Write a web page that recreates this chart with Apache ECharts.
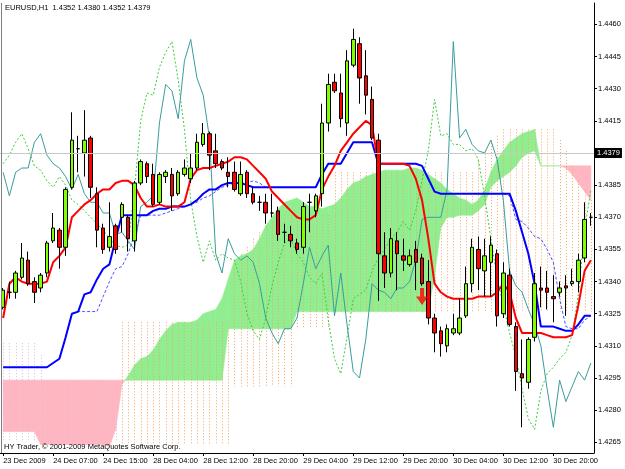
<!DOCTYPE html>
<html>
<head>
<meta charset="utf-8">
<script src="https://cdn.jsdelivr.net/npm/echarts@6.0.0/dist/echarts.min.js"></script>
<style>
  html, body { margin: 0; padding: 0; background: #fff; }
  #chart { width: 625px; height: 469px; }
</style>
</head>
<body>
<div id="chart"></div>
<script>
// EURUSD H1, 23 Dec 23:00 .. 31 Dec 02:00
const categories = [
  '23 Dec 23:00',
  '24 Dec 00:00','24 Dec 01:00','24 Dec 02:00','24 Dec 03:00','24 Dec 04:00','24 Dec 05:00','24 Dec 06:00',
  '24 Dec 07:00','24 Dec 08:00','24 Dec 09:00','24 Dec 10:00','24 Dec 11:00','24 Dec 12:00','24 Dec 13:00',
  '24 Dec 14:00','24 Dec 15:00','24 Dec 16:00','24 Dec 17:00','24 Dec 18:00','24 Dec 19:00','24 Dec 20:00',
  '28 Dec 02:00','28 Dec 03:00','28 Dec 04:00','28 Dec 05:00','28 Dec 06:00','28 Dec 07:00','28 Dec 08:00',
  '28 Dec 09:00','28 Dec 10:00','28 Dec 11:00','28 Dec 12:00','28 Dec 13:00','28 Dec 14:00','28 Dec 15:00',
  '28 Dec 16:00','28 Dec 17:00','28 Dec 18:00','28 Dec 19:00','28 Dec 20:00','28 Dec 21:00','28 Dec 22:00',
  '28 Dec 23:00',
  '29 Dec 00:00','29 Dec 01:00','29 Dec 02:00','29 Dec 03:00','29 Dec 04:00','29 Dec 05:00','29 Dec 06:00',
  '29 Dec 07:00','29 Dec 08:00','29 Dec 09:00','29 Dec 10:00','29 Dec 11:00','29 Dec 12:00','29 Dec 13:00',
  '29 Dec 14:00','29 Dec 15:00','29 Dec 16:00','29 Dec 17:00','29 Dec 18:00','29 Dec 19:00','29 Dec 20:00',
  '29 Dec 21:00','29 Dec 22:00','29 Dec 23:00',
  '30 Dec 00:00','30 Dec 01:00','30 Dec 02:00','30 Dec 03:00','30 Dec 04:00','30 Dec 05:00','30 Dec 06:00',
  '30 Dec 07:00','30 Dec 08:00','30 Dec 09:00','30 Dec 10:00','30 Dec 11:00','30 Dec 12:00','30 Dec 13:00',
  '30 Dec 14:00','30 Dec 15:00','30 Dec 16:00','30 Dec 17:00','30 Dec 18:00','30 Dec 19:00','30 Dec 20:00',
  '30 Dec 21:00','30 Dec 22:00','30 Dec 23:00',
  '31 Dec 00:00','31 Dec 01:00','31 Dec 02:00'
];

const openP = [
  1.4328,1.4335,1.4335,1.4342,1.4350,1.4340,1.4337,1.4344,1.4359,1.4364,
  1.4356,1.4384,1.4402,1.4400,1.4407,1.4381,1.4365,1.4356,1.4366,1.4370,
  1.4370,1.4359,1.4386,1.4395,1.4390,1.4377,1.4389,1.4390,1.4381,1.4390,
  1.4388,1.4393,1.4404,1.4409,1.4401,1.4396,1.4391,1.4391,1.4381,1.4391,
  1.4381,1.4377,1.4377,1.4372,1.4373,1.4363,1.4362,1.4358,1.4356,1.4377,
  1.4373,1.4381,1.4414,1.4433,1.4428,1.4414,1.4441,1.4451,1.4436,1.4425,
  1.4406,1.4352,1.4344,1.4359,1.4352,1.4348,1.4355,1.4351,1.4340,1.4323,
  1.4317,1.4310,1.4316,1.4316,1.4324,1.4339,1.4355,1.4345,1.4349,1.4353,
  1.4325,1.4343,1.4319,1.4297,1.4293,1.4314,1.4337,1.4337,1.4333,1.4335,
  1.4338,1.4339,1.4340,1.4351,1.4370
];
const highP = [
  1.4337,1.4340,1.4345,1.4358,1.4354,1.4342,1.4344,1.4359,1.4372,1.4365,
  1.4384,1.4419,1.4408,1.4420,1.4408,1.4384,1.4367,1.4377,1.4367,1.4377,
  1.4371,1.4387,1.4397,1.4396,1.4395,1.4391,1.4392,1.4393,1.4392,1.4397,
  1.4400,1.4409,1.4414,1.4410,1.4409,1.4397,1.4398,1.4396,1.4396,1.4392,
  1.4384,1.4380,1.4381,1.4381,1.4375,1.4367,1.4366,1.4360,1.4377,1.4381,
  1.4381,1.4423,1.4437,1.4437,1.4437,1.4448,1.4458,1.4454,1.4448,1.4431,
  1.4409,1.4363,1.4365,1.4363,1.4360,1.4355,1.4359,1.4353,1.4350,1.4325,
  1.4319,1.4320,1.4325,1.4332,1.4347,1.4360,1.4361,1.4360,1.4361,1.4355,
  1.4349,1.4346,1.4321,1.4313,1.4314,1.4344,1.4347,1.4345,1.4343,1.4340,
  1.4343,1.4346,1.4353,1.4377,1.4372
];
const lowP = [
  1.4327,1.4332,1.4332,1.4341,1.4338,1.4330,1.4335,1.4342,1.4358,1.4346,
  1.4352,1.4383,1.4391,1.4389,1.4379,1.4356,1.4353,1.4354,1.4353,1.4363,
  1.4354,1.4354,1.4385,1.4386,1.4375,1.4376,1.4386,1.4373,1.4380,1.4389,
  1.4386,1.4392,1.4403,1.4392,1.4393,1.4392,1.4384,1.4382,1.4380,1.4379,
  1.4376,1.4373,1.4367,1.4370,1.4359,1.4358,1.4356,1.4353,1.4353,1.4363,
  1.4370,1.4375,1.4410,1.4428,1.4412,1.4408,1.4440,1.4423,1.4418,1.4406,
  1.4331,1.4337,1.4342,1.4336,1.4345,1.4347,1.4336,1.4338,1.4320,1.4307,
  1.4305,1.4307,1.4315,1.4315,1.4323,1.4335,1.4336,1.4333,1.4333,1.4319,
  1.4323,1.4319,1.4289,1.4272,1.4290,1.4312,1.4328,1.4327,1.4321,1.4333,
  1.4324,1.4338,1.4335,1.4349,1.4366
];
const closeP = [
  1.4336,1.4335,1.4344,1.4351,1.4339,1.4335,1.4343,1.4358,1.4365,1.4356,
  1.4383,1.4406,1.4402,1.4406,1.4384,1.4364,1.4355,1.4361,1.4355,1.4376,
  1.4360,1.4386,1.4396,1.4389,1.4376,1.4390,1.4391,1.4380,1.4391,1.4393,
  1.4393,1.4405,1.4409,1.4399,1.4395,1.4393,1.4389,1.4383,1.4390,1.4381,
  1.4377,1.4377,1.4372,1.4372,1.4362,1.4363,1.4359,1.4355,1.4375,1.4377,
  1.4380,1.4414,1.4432,1.4429,1.4416,1.4443,1.4453,1.4435,1.4427,1.4407,
  1.4353,1.4344,1.4360,1.4353,1.4350,1.4352,1.4349,1.4339,1.4323,1.4316,
  1.4311,1.4318,1.4318,1.4323,1.4339,1.4356,1.4346,1.4352,1.4357,1.4324,
  1.4344,1.4320,1.4298,1.4295,1.4313,1.4339,1.4336,1.4335,1.4332,1.4337,
  1.4337,1.4340,1.4350,1.4369,1.4370
];

// Tenkan-sen (red)
const tenkan = [
  1.4323,1.4339,1.4342,1.4340,1.4339,1.4339,1.4339,1.4340,1.4349,1.4352,
  1.4356,1.4370,1.4373,1.4376,1.4378,1.4381,1.4383,1.4383,1.4386,1.4387,
  1.4387,1.4385,1.4379,1.4375,1.4375,1.4376,1.4375,1.4375,1.4375,1.4377,
  1.4388,1.4392,1.4393,1.4393,1.4394,1.4395,1.4396,1.4398,1.4398,1.4397,
  1.4394,1.4391,1.4388,1.4382,1.4379,1.4376,1.4373,1.4370,1.4369,1.4369,
  1.4371,1.4383,1.4389,1.4394,1.4401,1.4405,1.4409,1.4412,1.4415,1.4413,
  1.4395,1.4395,1.4395,1.4395,1.4395,1.4394,1.4388,1.4378,1.4360,1.4339,
  1.4335,1.4333,1.4332,1.4332,1.4332,1.4332,1.4333,1.4333,1.4333,1.4335,
  1.4339,1.4335,1.4323,1.4316,1.4316,1.4316,1.4316,1.4315,1.4314,1.4314,
  1.4314,1.4315,1.4329,1.4345,1.4350
];
// Kijun-sen (blue)
const kijun = [
  1.4300,1.4300,1.4300,1.4300,1.4300,1.4300,1.4300,1.4300,1.4302,1.4304,
  1.4314,1.4325,1.4326,1.4334,1.4335,1.4341,1.4346,1.4348,1.4360,1.4371,
  1.4371,1.4371,1.4371,1.4371,1.4373,1.4374,1.4374,1.4375,1.4375,1.4375,
  1.4376,1.4378,1.4381,1.4383,1.4383,1.4385,1.4386,1.4386,1.4386,1.4385,
  1.4384,1.4384,1.4384,1.4384,1.4384,1.4384,1.4384,1.4384,1.4384,1.4384,
  1.4384,1.4390,1.4395,1.4395,1.4395,1.4400,1.4405,1.4405,1.4405,1.4405,
  1.4395,1.4395,1.4395,1.4395,1.4395,1.4395,1.4395,1.4394,1.4388,1.4382,
  1.4381,1.4381,1.4381,1.4381,1.4381,1.4381,1.4381,1.4381,1.4381,1.4381,
  1.4381,1.4381,1.4373,1.4363,1.4353,1.4339,1.4319,1.4319,1.4319,1.4318,
  1.4317,1.4317,1.4320,1.4324,1.4324
];
// second kijun (thin dashed blue), only where it leaves the solid one
const kijunDash = [
  null,null,null,null,null,null,null,null,null,null,
  1.4314,1.4325,1.4326,1.4326,1.4326,1.4326,1.4333,1.4340,1.4346,1.4347,
  1.4353,1.4362,1.4371,1.4371,1.4371,1.4371,1.4372,1.4373,1.4374,1.4375,
  1.4376,1.4377,1.4379,1.4380,1.4382,1.4384,1.4385,1.4386,1.4386,1.4386,
  1.4387,1.4386,1.4384,null,null,null,null,null,null,null,
  null,null,null,null,null,null,null,null,null,null,
  null,null,null,null,null,null,null,null,null,null,
  null,null,null,null,null,null,null,null,null,null,
  1.4381,1.4380,1.4369,1.4368,1.4365,1.4361,1.4360,1.4355,1.4349,1.4332,
  1.4319,1.4318,1.4318,1.4322,1.4324
];
// Chikou span (thin teal)
const chikou = [
  1.4391,1.4380,1.4391,1.4393,1.4393,1.4405,1.4409,1.4399,1.4395,1.4393,
  1.4389,1.4383,1.4390,1.4381,1.4377,1.4377,1.4372,1.4372,1.4362,1.4363,
  1.4359,1.4355,1.4375,1.4377,1.4380,1.4414,1.4432,1.4429,1.4416,1.4443,
  1.4453,1.4435,1.4427,1.4407,1.4353,1.4344,1.4360,1.4353,1.4350,1.4352,
  1.4349,1.4339,1.4323,1.4316,1.4311,1.4318,1.4318,1.4323,1.4339,1.4356,
  1.4346,1.4352,1.4357,1.4324,1.4344,1.4320,1.4298,1.4295,1.4313,1.4339,
  1.4336,1.4335,1.4332,1.4337,1.4337,1.4340,1.4350,1.4369,1.4370,1.4370,
  1.4370,1.4383,1.4452,1.4407,1.4411,1.4404,1.4401,1.4400,1.4406,1.4397,
  1.4378,1.4345,1.4338,1.4335,1.4327,1.4320,1.4310,1.4290,1.4272,1.4294,
  1.4284,1.4291,1.4298,1.4294,1.4302
];
// lagging line of the second ichimoku (green dotted)
const lagDots = [
  1.4395,1.4399,1.4405,1.4409,1.4402,1.4394,1.4392,1.4387,1.4384,1.4389,
  1.4385,1.4378,1.4376,1.4373,1.4370,1.4367,1.4364,1.4360,1.4357,1.4356,
  1.4357,1.4383,1.4415,1.4428,1.4427,1.4440,1.4447,1.4452,1.4434,1.4411,
  1.4378,1.4361,1.4349,1.4359,1.4350,1.4353,1.4351,1.4350,1.4340,1.4325,
  1.4317,1.4313,1.4323,1.4338,1.4349,1.4358,1.4360,1.4353,1.4349,1.4342,
  1.4339,1.4344,1.4322,1.4304,1.4297,1.4314,1.4332,1.4334,1.4336,1.4345,
  1.4351,1.4355,1.4360,1.4363,1.4368,1.4364,1.4373,1.4387,1.4401,1.4425,
  1.4408,1.4409,1.4404,1.4404,1.4401,1.4402,1.4397,1.4380,1.4360,1.4342,
  1.4329,1.4316,1.4305,1.4290,1.4276,1.4271,1.4289,1.4297,1.4300,1.4304,
  1.4307,1.4315,1.4334,1.4364,1.4383
];
// filled cloud: senkou span A / B
const spanA = [
  1.4270,1.4270,1.4270,1.4270,1.4270,1.4270,1.4264,1.4264,1.4264,1.4264,
  1.4264,1.4264,1.4264,1.4264,1.4264,1.4264,1.4264,1.4263,1.4271,1.4292,
  1.4296,1.4301,1.4304,1.4305,1.4308,1.4313,1.4317,1.4320,1.4321,1.4321,
  1.4321,1.4322,1.4325,1.4326,1.4327,1.4332,1.4341,1.4350,1.4352,1.4353,
  1.4355,1.4360,1.4366,1.4370,1.4374,1.4377,1.4378,1.4379,1.4377,1.4375,
  1.4375,1.4374,1.4375,1.4376,1.4379,1.4383,1.4386,1.4387,1.4389,1.4390,
  1.4391,1.4392,1.4392,1.4392,1.4392,1.4393,1.4393,1.4392,1.4390,1.4388,
  1.4386,1.4383,1.4381,1.4379,1.4378,1.4376,1.4378,1.4383,1.4391,1.4397,
  1.4401,1.4405,1.4407,1.4409,1.4410,1.4411,1.4394,1.4394,1.4394,1.4394,
  1.4393,1.4390,1.4386,1.4382,1.4378
];
const spanB = [
  1.4294,1.4294,1.4294,1.4294,1.4294,1.4294,1.4294,1.4294,1.4294,1.4294,
  1.4294,1.4294,1.4294,1.4294,1.4294,1.4294,1.4294,1.4294,1.4294,1.4294,
  1.4294,1.4294,1.4294,1.4294,1.4294,1.4294,1.4294,1.4294,1.4294,1.4294,
  1.4294,1.4294,1.4294,1.4294,1.4294,1.4294,1.4318,1.4318,1.4318,1.4318,
  1.4318,1.4318,1.4318,1.4318,1.4318,1.4318,1.4318,1.4326,1.4326,1.4326,
  1.4326,1.4326,1.4326,1.4326,1.4326,1.4326,1.4326,1.4326,1.4326,1.4326,
  1.4326,1.4326,1.4326,1.4326,1.4326,1.4326,1.4326,1.4326,1.4326,1.4343,
  1.4365,1.4370,1.4370,1.4371,1.4371,1.4371,1.4373,1.4376,1.4384,1.4387,
  1.4389,1.4391,1.4394,1.4398,1.4400,1.4401,1.4394,1.4394,1.4394,1.4394,
  1.4394,1.4394,1.4394,1.4394,1.4394
];
// hatched cloud of the second ichimoku
const hatchA = [
  1.4266,1.4266,1.4266,1.4266,1.4266,1.4266,1.4266,1.4266,1.4266,1.4266,
  1.4266,1.4266,1.4266,1.4266,1.4266,1.4266,1.4266,1.4266,1.4266,1.4321,
  1.4321,1.4321,1.4321,1.4321,1.4321,1.4321,1.4321,1.4321,1.4321,1.4321,
  1.4321,1.4321,1.4321,1.4321,1.4321,1.4321,1.4321,1.4350,1.4353,1.4356,
  1.4360,1.4363,1.4366,1.4368,1.4371,1.4371,1.4371,1.4371,1.4371,1.4371,
  1.4371,1.4371,1.4371,1.4391,1.4391,1.4391,1.4391,1.4391,1.4391,1.4391,
  1.4391,1.4391,1.4391,1.4391,1.4391,1.4391,1.4391,1.4391,1.4391,1.4391,
  1.4391,1.4391,1.4391,1.4391,1.4391,1.4391,1.4397,1.4401,1.4406,1.4408,
  1.4411,1.4411,1.4411,1.4411,1.4411,1.4411,1.4411,1.4411,1.4411,1.4406,
  1.4401,1.4394,1.4387,1.4383,1.4378
];
const hatchB = [
  1.4312,1.4312,1.4312,1.4312,1.4312,1.4312,1.4306,1.4294,1.4294,1.4294,
  1.4294,1.4294,1.4294,1.4294,1.4294,1.4294,1.4294,1.4294,1.4294,1.4264,
  1.4264,1.4264,1.4264,1.4264,1.4264,1.4264,1.4264,1.4264,1.4264,1.4264,
  1.4264,1.4264,1.4264,1.4264,1.4264,1.4264,1.4264,1.4291,1.4291,1.4291,
  1.4291,1.4291,1.4291,1.4291,1.4291,1.4291,1.4291,1.4318,1.4318,1.4318,
  1.4318,1.4318,1.4318,1.4326,1.4326,1.4326,1.4326,1.4326,1.4326,1.4326,
  1.4326,1.4326,1.4326,1.4326,1.4326,1.4326,1.4326,1.4326,1.4326,1.4326,
  1.4326,1.4326,1.4326,1.4326,1.4326,1.4326,1.4326,1.4326,1.4326,1.4326,
  1.4326,1.4326,1.4326,1.4326,1.4326,1.4326,1.4326,1.4326,1.4326,1.4326,
  1.4326,1.4326,1.4326,1.4326,1.4326
];

const yTicks = [1.4265,1.4280,1.4295,1.4310,1.4325,1.4340,1.4355,1.4370,1.4385,1.4400,1.4415,1.4430,1.4445,1.4460];
const lastPrice = 1.4379;
const sellArrow = [[67, 1.4333]];

const titleText = 'EURUSD,H1  1.4352 1.4380 1.4352 1.4379';
const footText = 'HY Trader, \u00A9 2001-2009 MetaQuotes Software Corp.';
const FONT = 'Liberation Sans';

const candleData = openP.map((o, i) => [o, closeP[i], lowP[i], highP[i]]);
const cloudData = spanA.slice(0, -1).map((a, i) => [i, a, spanB[i], spanA[i + 1], spanB[i + 1]]);
const hatchData = hatchA.map((a, i) => [i, a, hatchB[i]]);

function renderCloud(params, api) {
  const i = api.value(0);
  const a0v = api.value(1), b0v = api.value(2), a1v = api.value(3), b1v = api.value(4);
  const a0 = api.coord([i, a0v]), b0 = api.coord([i, b0v]);
  const a1 = api.coord([i + 1, a1v]), b1 = api.coord([i + 1, b1v]);
  const d0 = a0v - b0v, d1 = a1v - b1v;
  const col = d => (d >= 0 ? '#90EE90' : '#FFB6C1');
  const poly = (pts, c) => ({ type: 'polygon', shape: { points: pts }, style: { fill: c, stroke: c, lineWidth: 0.6 } });
  if (d0 * d1 < 0) {
    const t = d0 / (d0 - d1);
    const px = a0[0] + t * (a1[0] - a0[0]);
    const py = a0[1] + t * (a1[1] - a0[1]);
    return { type: 'group', children: [poly([a0, [px, py], b0], col(d0)), poly([[px, py], a1, b1], col(d1))] };
  }
  return poly([a0, a1, b1, b0], col(d0 !== 0 ? d0 : d1));
}

function renderHatch(params, api) {
  const i = api.value(0);
  const av = api.value(1), bv = api.value(2);
  const p0 = api.coord([i, av]), p1 = api.coord([i, bv]);
  const x = Math.round(p0[0]) + 0.5;
  return {
    type: 'line',
    shape: { x1: x, y1: p0[1], x2: x, y2: p1[1] },
    style: { stroke: av >= bv ? '#F4A460' : '#D8BFD8', lineWidth: 1, lineDash: [1, 2] }
  };
}

const chart = echarts.init(document.getElementById('chart'), null, { renderer: 'canvas' });

const option = {
  animation: false,
  backgroundColor: '#ffffff',
  grid: { left: 0, right: 31, top: 3, bottom: 16, containLabel: false },
  xAxis: {
    type: 'category',
    data: categories,
    boundaryGap: true,
    axisLine: { show: true, lineStyle: { color: '#000', width: 1 } },
    axisTick: { show: true, alignWithLabel: true, length: 3, interval: idx => idx % 8 === 0, lineStyle: { color: '#000' } },
    axisLabel: {
      interval: idx => idx % 8 === 0,
      formatter: (v, idx) => (idx === 0 ? '23 Dec 2009' : v),
      align: 'left',
      margin: 4,
      fontSize: 7.5,
      fontFamily: FONT,
      color: '#000'
    },
    splitLine: { show: false }
  },
  yAxis: {
    type: 'value',
    position: 'right',
    min: 1.4260,
    max: 1.4470,
    splitLine: { show: false },
    axisLine: { show: true, lineStyle: { color: '#000', width: 1 } },
    axisTick: { show: true, length: 3, customValues: yTicks, lineStyle: { color: '#000' } },
    axisLabel: {
      customValues: yTicks,
      formatter: v => v.toFixed(4),
      margin: 4,
      fontSize: 7.5,
      fontFamily: FONT,
      color: '#000'
    }
  },
  graphic: [
    { type: 'line', shape: { x1: 1.5, y1: 3, x2: 1.5, y2: 453 }, style: { stroke: '#808080', lineWidth: 1 }, z: 10 },
    { type: 'text', left: 5, top: 4, style: { text: titleText, fontSize: 7.5, fontFamily: FONT, fill: '#000' }, z: 10 },
    { type: 'text', left: 4, top: 443, style: { text: footText, fontSize: 7.5, fontFamily: FONT, fill: '#000' }, z: 10 }
  ],
  series: [
    {
      name: 'cloud',
      type: 'custom',
      renderItem: renderCloud,
      data: cloudData,
      encode: { x: 0, y: [1, 2, 3, 4] },
      clip: true,
      silent: true,
      z: 1,
      markLine: {
        silent: true,
        symbol: 'none',
        lineStyle: { color: '#c8c8c8', width: 1, type: 'solid' },
        label: {
          show: true,
          position: 'end',
          formatter: () => lastPrice.toFixed(4),
          backgroundColor: '#000',
          color: '#fff',
          padding: [1, 2, 1, 2],
          fontSize: 7.5,
          fontFamily: FONT,
          distance: 1
        },
        data: [{ yAxis: lastPrice }]
      }
    },
    {
      name: 'hatch',
      type: 'custom',
      renderItem: renderHatch,
      data: hatchData,
      encode: { x: 0, y: [1, 2] },
      clip: true,
      silent: true,
      z: 2
    },
    {
      name: 'lag2', type: 'line', data: lagDots, symbol: 'none', z: 3,
      lineStyle: { color: '#3ccc3c', width: 1, type: [2, 2] }
    },
    {
      name: 'chikou', type: 'line', data: chikou, symbol: 'none', z: 3,
      lineStyle: { color: '#3a9c9c', width: 1 }
    },
    {
      name: 'kijun2', type: 'line', data: kijunDash, symbol: 'none', z: 3, connectNulls: false,
      lineStyle: { color: '#5050ff', width: 1, type: [3, 2] }
    },
    {
      name: 'kijun', type: 'line', data: kijun, symbol: 'none', z: 3,
      lineStyle: { color: '#0000ff', width: 2 }
    },
    {
      name: 'tenkan', type: 'line', data: tenkan, symbol: 'none', z: 3,
      lineStyle: { color: '#ff0000', width: 2 }
    },
    {
      name: 'EURUSD',
      type: 'candlestick',
      data: candleData,
      barWidth: 4,
      z: 4,
      itemStyle: {
        color: '#7fff00',
        color0: '#ff0000',
        borderColor: '#000',
        borderColor0: '#000',
        borderWidth: 1
      }
    },
    {
      name: 'signal',
      type: 'scatter',
      data: sellArrow,
      symbol: 'path://M4,0 L8,0 L8,8 L12,8 L6,16 L0,8 L4,8 Z',
      symbolSize: [12, 17],
      itemStyle: { color: '#ff0000' },
      z: 5
    }
  ]
};

chart.setOption(option);
</script>
</body>
</html>
